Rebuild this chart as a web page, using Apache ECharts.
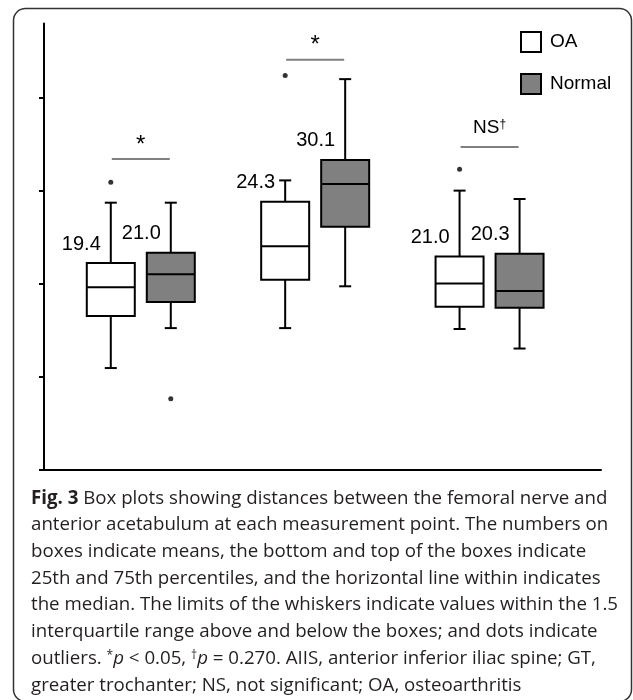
<!DOCTYPE html>
<html>
<head>
<meta charset="utf-8">
<style>
  html, body { margin: 0; padding: 0; background: #ffffff; }
  #chart { width: 633px; height: 700px; }
</style>
<script src="https://cdn.jsdelivr.net/npm/echarts@6/dist/echarts.min.js"></script>
</head>
<body>
<div id="chart"></div>
<script>
// ---- data ----
const categories = ['Point 1', 'Point 2', 'Point 3'];
const seriesNames = ['OA', 'Normal'];
const yTicks = [0, 10, 20, 30, 40];

const oaMin    = [10.9, 15.2, 15.1];
const oaQ1     = [16.5, 20.4, 17.5];
const oaMedian = [19.6, 24.0, 20.0];
const oaQ3     = [22.2, 28.8, 22.9];
const oaMax    = [28.7, 31.1, 30.0];
const oaMean   = [19.4, 24.3, 21.0];
const oaOutliers = [[0, 30.9], [1, 42.4], [2, 32.3]];

const normMin    = [15.2, 19.7, 13.0];
const normQ1     = [18.0, 26.1, 17.4];
const normMedian = [21.0, 30.7, 19.2];
const normQ3     = [23.3, 33.3, 23.2];
const normMax    = [28.7, 42.0, 29.1];
const normMean   = [21.0, 30.1, 20.3];
const normOutliers = [[0, 7.6]];

const sigLevels = [33.4, 44.1, 34.7];
const sigLabels = ['*', '*', 'NS†'];

const captionLines = [
  '{b|Fig. 3} Box plots showing distances between the femoral nerve and',
  'anterior acetabulum at each measurement point. The numbers on',
  'boxes indicate means, the bottom and top of the boxes indicate',
  '25th and 75th percentiles, and the horizontal line within indicates',
  'the median. The limits of the whiskers indicate values within the 1.5',
  'interquartile range above and below the boxes; and dots indicate',
  'outliers. {sup|*}{i|p} < 0.05, {sup|†}{i|p} = 0.270. AIIS, anterior inferior iliac spine; GT,',
  'greater trochanter; NS, not significant; OA, osteoarthritis'
];

// ---- build ----
function boxData(mn, q1, md, q3, mx, mean) {
  return categories.map((c, i) => [i, mn[i], q1[i], md[i], q3[i], mx[i], mean[i]]);
}

const LABEL_FONT = '"Liberation Sans", Arial, sans-serif';

function makeBoxRender(offset, fill) {
  return function (params, api) {
    const g = api.value(0);
    const lo = api.coord([g, api.value(1)]);
    const q1 = api.coord([g, api.value(2)]);
    const md = api.coord([g, api.value(3)]);
    const q3 = api.coord([g, api.value(4)]);
    const hi = api.coord([g, api.value(5)]);
    const cx = lo[0] + offset;
    const hw = 24, cap = 6;
    const ls = { stroke: '#000', lineWidth: 2 };
    return {
      type: 'group',
      children: [
        { type: 'line', shape: { x1: cx, y1: hi[1], x2: cx, y2: q3[1] }, style: ls },
        { type: 'line', shape: { x1: cx, y1: q1[1], x2: cx, y2: lo[1] }, style: ls },
        { type: 'line', shape: { x1: cx - cap, y1: hi[1], x2: cx + cap, y2: hi[1] }, style: ls },
        { type: 'line', shape: { x1: cx - cap, y1: lo[1], x2: cx + cap, y2: lo[1] }, style: ls },
        { type: 'rect', shape: { x: cx - hw, y: q3[1], width: 2 * hw, height: q1[1] - q3[1] },
          style: { fill: fill, stroke: '#000', lineWidth: 2 } },
        { type: 'line', shape: { x1: cx - hw, y1: md[1], x2: cx + hw, y2: md[1] }, style: ls },
        { type: 'text', x: cx - 10, y: q3[1] - 19,
          style: { text: api.value(6).toFixed(1), align: 'right', verticalAlign: 'middle',
                   font: '20px ' + LABEL_FONT, fill: '#000' } }
      ]
    };
  };
}

function sigRender(params, api) {
  const i = params.dataIndex;
  const p = api.coord([api.value(0), api.value(1)]);
  const lbl = sigLabels[i];
  const children = [
    { type: 'line', shape: { x1: p[0] - 29, y1: p[1], x2: p[0] + 29, y2: p[1] },
      style: { stroke: '#808080', lineWidth: 2 } }
  ];
  if (lbl === '*') {
    children.push({ type: 'text', x: p[0], y: p[1] - 14,
      style: { text: '*', align: 'center', verticalAlign: 'middle',
               font: '24px ' + LABEL_FONT, fill: '#000' } });
  } else {
    children.push({ type: 'text', x: p[0], y: p[1] - 19,
      style: { text: '{n|NS}{s|†}', align: 'center', verticalAlign: 'middle',
               rich: {
                 n: { fontSize: 19, fontFamily: LABEL_FONT, fill: '#000', color: '#000' },
                 s: { fontSize: 12, fontFamily: LABEL_FONT, fill: '#000', color: '#000', verticalAlign: 'top' }
               } } });
  }
  return { type: 'group', children: children };
}

const CAP_FONT = '"Open Sans", "Noto Sans", sans-serif';
const capSize = 18.7;
const capLH = 26.7;

const option = {
  animation: false,
  backgroundColor: '#ffffff',
  graphic: [{
    type: 'rect', silent: true, z: -10,
    shape: { x: 13.5, y: 8.5, width: 618, height: 693, r: 12 },
    style: { fill: 'none', stroke: '#333333', lineWidth: 1.5 }
  }],
  title: {
    left: 31, top: 485, padding: 0,
    text: captionLines.join('\n'),
    textStyle: {
      fontFamily: CAP_FONT, fontSize: capSize, fontWeight: 'normal', color: '#231f20', lineHeight: capLH,
      rich: {
        b: { fontFamily: CAP_FONT, fontSize: capSize, fontWeight: 'bold', color: '#231f20', lineHeight: capLH },
        i: { fontFamily: CAP_FONT, fontSize: capSize, fontStyle: 'italic', color: '#231f20', lineHeight: capLH },
        sup: { fontFamily: CAP_FONT, fontSize: 12, color: '#231f20', lineHeight: capLH, verticalAlign: 'top', padding: [4, 0, 0, 0] }
      }
    }
  },
  legend: {
    orient: 'vertical', left: 520, top: 31, padding: 0,
    itemWidth: 20, itemHeight: 20, itemGap: 20,
    selectedMode: false,
    textStyle: { fontFamily: LABEL_FONT, fontSize: 19, color: '#000', padding: [0, 0, 0, 4] },
    data: [
      { name: 'OA', icon: 'rect', itemStyle: { color: '#ffffff', borderColor: '#000', borderWidth: 2 } },
      { name: 'Normal', icon: 'rect', itemStyle: { color: '#808080', borderColor: '#000', borderWidth: 2 } }
    ]
  },
  grid: { left: 44, right: 32, top: 23.4, bottom: 230.7, containLabel: false },
  xAxis: {
    type: 'value', min: -0.555, max: 2.639,
    axisLine: { show: true, onZero: false, lineStyle: { color: '#000', width: 2 } },
    axisTick: { show: false }, axisLabel: { show: false }, splitLine: { show: false }
  },
  yAxis: {
    type: 'value', min: 0, max: 48,
    axisLine: { show: true, onZero: false, lineStyle: { color: '#000', width: 2 } },
    axisTick: { show: true, length: 5, customValues: yTicks, lineStyle: { color: '#000', width: 2 } },
    axisLabel: { show: false }, splitLine: { show: false }
  },
  series: [
    { name: 'OA', type: 'custom', renderItem: makeBoxRender(-30, '#ffffff'),
      itemStyle: { color: '#ffffff', borderColor: '#000' },
      data: boxData(oaMin, oaQ1, oaMedian, oaQ3, oaMax, oaMean), encode: { x: 0, y: [1, 2, 3, 4, 5] } },
    { name: 'Normal', type: 'custom', renderItem: makeBoxRender(30, '#808080'),
      itemStyle: { color: '#808080', borderColor: '#000' },
      data: boxData(normMin, normQ1, normMedian, normQ3, normMax, normMean), encode: { x: 0, y: [1, 2, 3, 4, 5] } },
    { name: 'OA outliers', type: 'scatter', data: oaOutliers, symbolSize: 5, symbolOffset: [-30, 0],
      itemStyle: { color: '#000' } },
    { name: 'Normal outliers', type: 'scatter', data: normOutliers, symbolSize: 5, symbolOffset: [30, 0],
      itemStyle: { color: '#000' } },
    { name: 'Significance', type: 'custom', renderItem: sigRender,
      data: categories.map((c, i) => [i, sigLevels[i]]), encode: { x: 0, y: 1 } }
  ]
};

const chart = echarts.init(document.getElementById('chart'), null, { renderer: 'canvas' });
chart.setOption(option);
</script>
</body>
</html>
